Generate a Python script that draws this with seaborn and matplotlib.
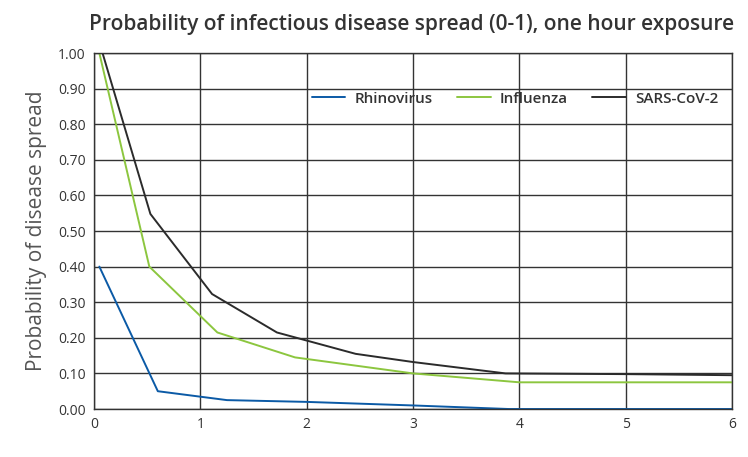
import matplotlib
matplotlib.use("Agg")
import matplotlib.pyplot as plt
import seaborn as sns
import pandas as pd

series_names = ["Rhinovirus", "Influenza", "SARS-CoV-2"]
rhino_x = [0.05, 0.60, 1.25, 2.0, 3.0, 3.9, 5.0, 6.0]
rhino_y = [0.40, 0.05, 0.025, 0.02, 0.01, 0.0, 0.0, 0.0]
flu_x = [0.05, 0.52, 1.16, 1.89, 3.0, 4.0, 5.0, 6.0]
flu_y = [1.00, 0.40, 0.215, 0.145, 0.10, 0.075, 0.075, 0.075]
sars_x = [0.08, 0.53, 1.11, 1.72, 2.46, 3.0, 3.87, 5.0, 6.0]
sars_y = [1.00, 0.548, 0.323, 0.215, 0.155, 0.132, 0.10, 0.098, 0.095]
colors = ["#0b5aa6", "#8cc63f", "#2b2b2b"]

x_ticks = [0, 1, 2, 3, 4, 5, 6]
y_ticks = [0.0, 0.1, 0.2, 0.3, 0.4, 0.5, 0.6, 0.7, 0.8, 0.9, 1.0]

frames = []
for name, xs, ys in zip(series_names, [rhino_x, flu_x, sars_x], [rhino_y, flu_y, sars_y]):
    frames.append(pd.DataFrame({"hours": xs, "prob": ys, "virus": name}))
df = pd.concat(frames, ignore_index=True)

sns.set_style("white")
plt.rcParams["font.family"] = ["Open Sans", "DejaVu Sans"]

fig = plt.figure(figsize=(7.48, 4.57), dpi=100)
ax = fig.add_axes([0.1257, 0.105, 0.853, 0.779])

sns.lineplot(data=df, x="hours", y="prob", hue="virus", hue_order=series_names,
             palette=colors, linewidth=1.4, ax=ax, sort=False, estimator=None)

ax.set_xlim(0, 6)
ax.set_ylim(0, 1.0)
ax.set_xticks(x_ticks)
ax.set_xticklabels([str(t) for t in x_ticks])
ax.set_yticks(y_ticks)
ax.set_yticklabels([f"{t:.2f}" for t in y_ticks])
ax.grid(True, color="#333333", linewidth=1.0)
ax.set_axisbelow(True)
for s in ax.spines.values():
    s.set_color("#333333")
    s.set_linewidth(1.0)
ax.tick_params(axis="both", labelsize=10, colors="#333333", length=0, pad=6)
ax.set_xlabel("")
ax.set_ylabel("Probability of disease spread", fontsize=15, color="#555555", labelpad=8)
fig.text(0.982, 0.947, "Probability of infectious disease spread (0-1), one hour exposure",
         ha="right", va="center", fontsize=15, color="#333333", fontweight="semibold")

leg = ax.legend(loc="upper right", bbox_to_anchor=(1.0, 0.93), ncol=3, frameon=False,
                fontsize=11, handlelength=2.2, columnspacing=1.6, handletextpad=0.6)
for t in leg.get_texts():
    t.set_color("#333333")
    t.set_fontweight("semibold")

fig.savefig("out.png", dpi=100, facecolor="white")
